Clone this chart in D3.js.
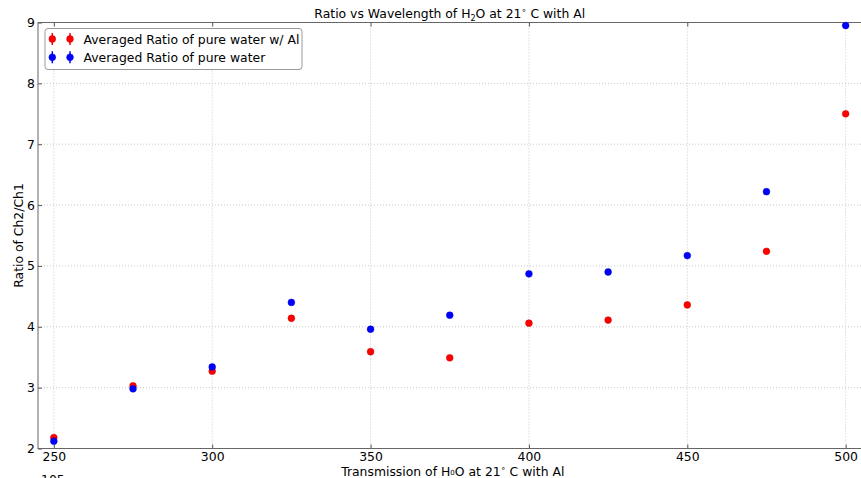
<!DOCTYPE html>
<html><head><meta charset="utf-8">
<script src="https://cdn.jsdelivr.net/npm/d3@7"></script>
<style>
html,body{margin:0;padding:0;background:#fff;overflow:hidden}
text{font-family:"DejaVu Sans",sans-serif;fill:#000}
</style></head>
<body>
<svg id="c" width="861" height="478"></svg>
<script>
const wavelengths = [250,275,300,325,350,375,400,425,450,475,500];
const ratioWithAl = [2.18,3.03,3.27,4.14,3.59,3.49,4.06,4.11,4.36,5.24,7.50];
const ratioPure   = [2.12,2.98,3.34,4.40,3.96,4.19,4.87,4.90,5.17,6.22,8.95];
const xTicks = [250,300,350,400,450,500];
const yTicks = [2,3,4,5,6,7,8,9];
const seriesNames = ["Averaged Ratio of pure water w/ Al","Averaged Ratio of pure water"];
const seriesColors = ["#ff0000","#0000ff"];

const FS = "12.4px";
const svg = d3.select("#c");
const m = {l:38, t:22.5, r:861.5, b:448.5};
const x = d3.scaleLinear().domain([245,505]).range([m.l,m.r]);
const y = d3.scaleLinear().domain([2,9]).range([m.b,m.t]);

// grid
const g = svg.append("g");
g.selectAll(".vg").data(xTicks).enter().append("line")
 .attr("x1",d=>x(d)).attr("x2",d=>x(d)).attr("y1",m.t).attr("y2",m.b)
 .attr("stroke","#c8c8c8").attr("stroke-width",1).attr("stroke-dasharray","1,2");
g.selectAll(".hg").data(yTicks).enter().append("line")
 .attr("y1",d=>y(d)).attr("y2",d=>y(d)).attr("x1",m.l).attr("x2",m.r)
 .attr("stroke","#c8c8c8").attr("stroke-width",1).attr("stroke-dasharray","1,2");

// axes
const xAxis = d3.axisBottom(x).tickValues(xTicks).tickSize(-4).tickPadding(4).tickFormat(d3.format("d"));
const yAxis = d3.axisLeft(y).tickValues(yTicks).tickSize(-4).tickPadding(3).tickFormat(d3.format("d"));
const gx = svg.append("g").attr("transform",`translate(0,${m.b})`).call(xAxis);
const gy = svg.append("g").attr("transform",`translate(${m.l},0)`).call(yAxis);
const gxt = svg.append("g").attr("transform",`translate(0,${m.t})`).call(d3.axisTop(x).tickValues(xTicks).tickSize(-4).tickFormat(""));
[gx,gy,gxt].forEach(a=>{
  a.select(".domain").remove();
  a.selectAll("line").attr("stroke","#555");
  a.selectAll("text").style("font-family",'"DejaVu Sans",sans-serif').style("font-size",FS).attr("fill","#000");
});
// spines
svg.append("rect").attr("x",m.l).attr("y",m.t).attr("width",m.r-m.l).attr("height",m.b-m.t)
 .attr("fill","none").attr("stroke","#666").attr("stroke-width",1);

// points
const series = [ratioWithAl, ratioPure];
series.forEach((vals,i)=>{
  svg.append("g").selectAll("circle").data(wavelengths).enter().append("circle")
   .attr("cx",d=>x(d)).attr("cy",(d,j)=>y(vals[j])).attr("r",3.4)
   .attr("fill",seriesColors[i]).attr("stroke",d3.color(seriesColors[i]).darker(0.6)).attr("stroke-width",0.5);
});

// title
const title = svg.append("text").attr("x",(m.l+m.r)/2).attr("y",18).attr("text-anchor","middle").style("font-size",FS);
title.append("tspan").text("Ratio vs Wavelength of H");
title.append("tspan").attr("dy",3).style("font-size","8px").text("2");
title.append("tspan").attr("dy",-3).text("O at 21");
title.append("tspan").attr("dy",-5).style("font-size","8px").text("\u2218");
title.append("tspan").attr("dy",5).text(" C with Al");

// x label
const xl = svg.append("text").attr("x",(m.l+m.r)/2+3).attr("y",475.5).attr("text-anchor","middle").style("font-size",FS);
xl.append("tspan").text("Transmission of H");
xl.append("tspan").style("font-size","7px").attr("dy",-1).text("0");
xl.append("tspan").attr("dy",1).text("O at 21");
xl.append("tspan").attr("dy",-5).style("font-size","8px").text("\u2218");
xl.append("tspan").attr("dy",5).text(" C with Al");

// offset text, cut off at the bottom edge as in the reference
svg.append("text").attr("x",41).attr("y",483.5).style("font-size",FS).text("105");

// y label
svg.append("text").attr("transform",`translate(23,${(m.t+m.b)/2}) rotate(-90)`).attr("text-anchor","middle").style("font-size",FS).text("Ratio of Ch2/Ch1");

// legend
const lg = svg.append("g");
lg.append("rect").attr("x",45).attr("y",28.5).attr("width",257).attr("height",41).attr("rx",3)
 .attr("fill","#fff").attr("stroke","#999").attr("stroke-width",1);
seriesNames.forEach((nm,i)=>{
  const cy = 39 + i*18.3;
  [52.3,70].forEach(cx=>{
    lg.append("line").attr("x1",cx).attr("x2",cx).attr("y1",cy-6).attr("y2",cy+6).attr("stroke",seriesColors[i]).attr("stroke-width",1.5);
    lg.append("circle").attr("cx",cx).attr("cy",cy).attr("r",3.4).attr("fill",seriesColors[i]).attr("stroke",d3.color(seriesColors[i]).darker(0.6)).attr("stroke-width",0.5);
  });
  lg.append("text").attr("x",83.5).attr("y",cy+4.5).style("font-size",FS).text(nm);
});
</script>
</body></html>
